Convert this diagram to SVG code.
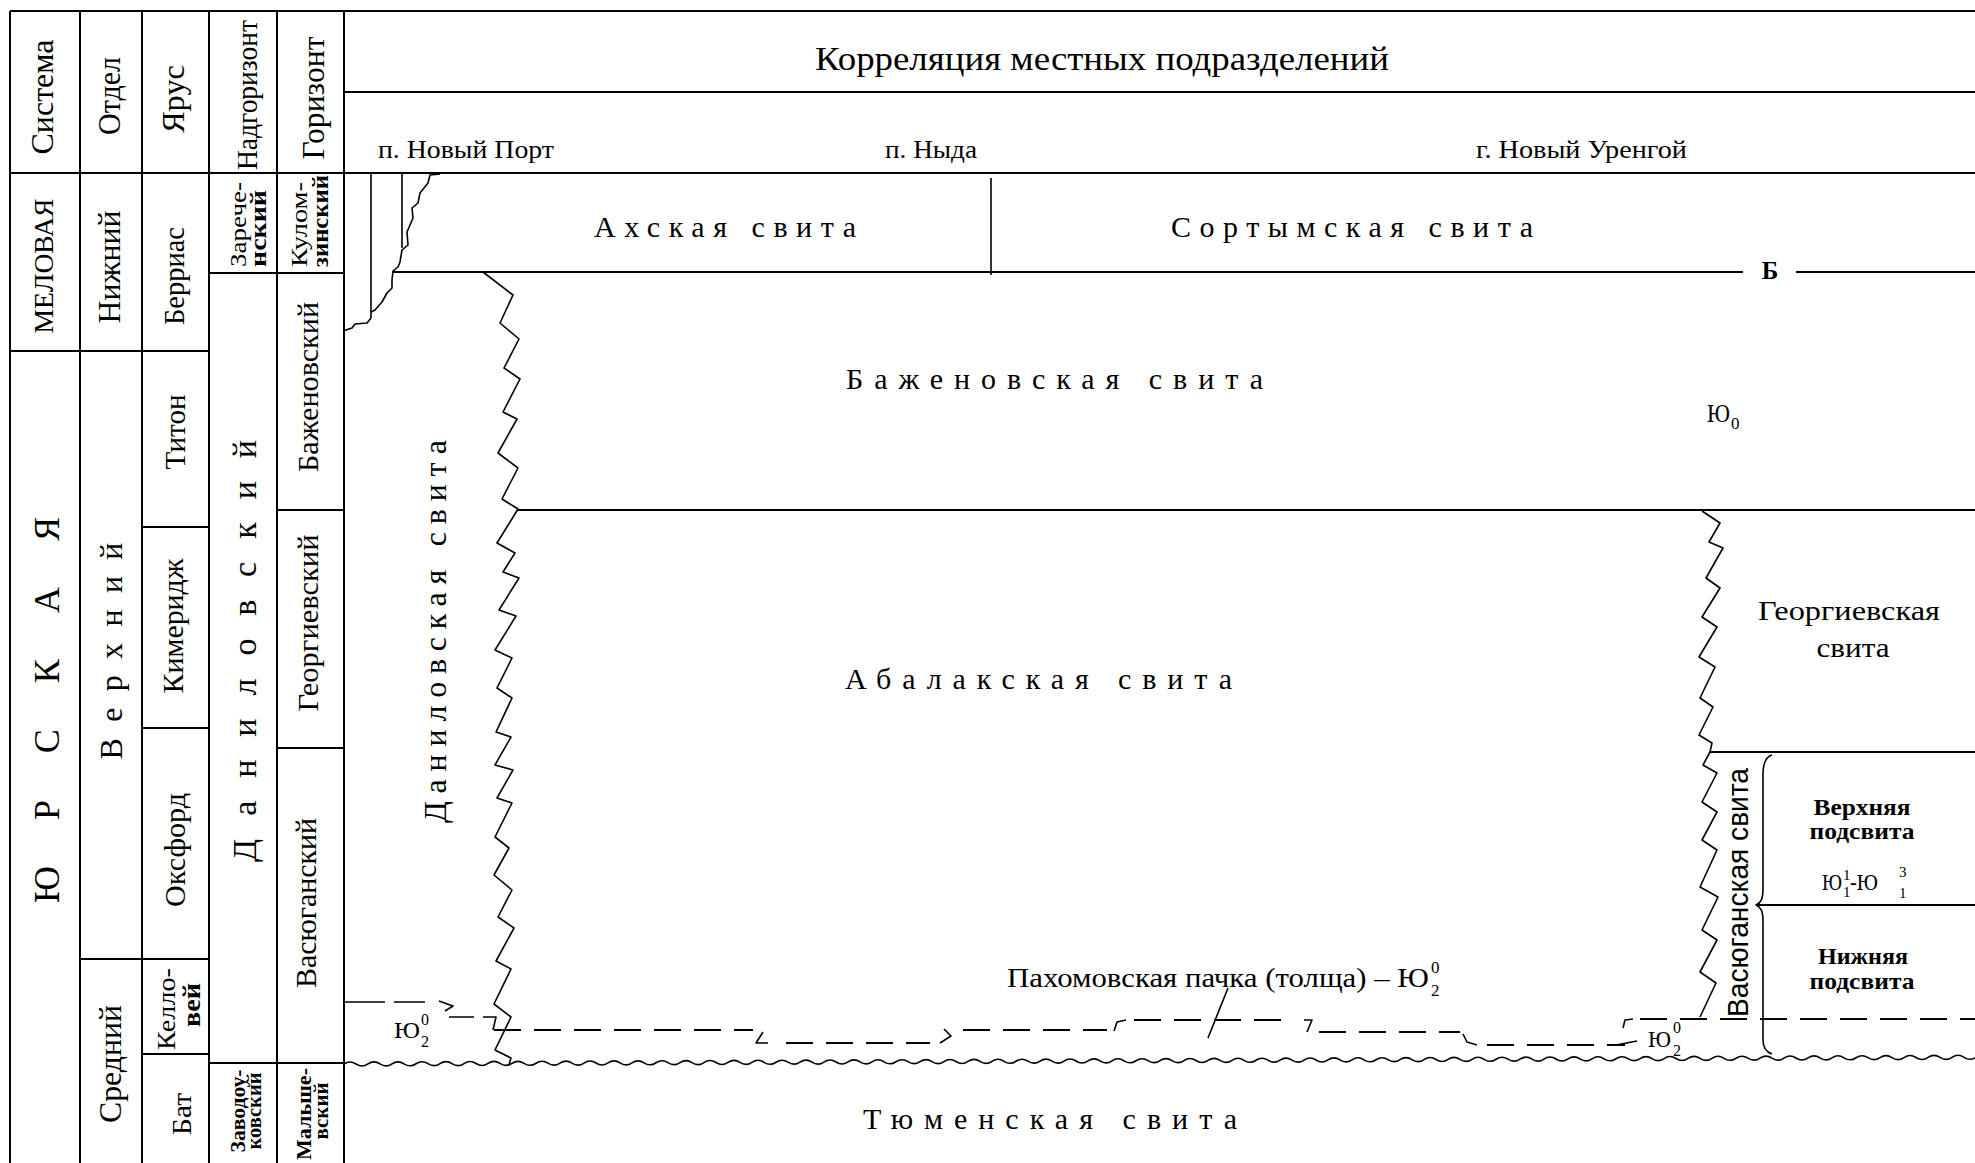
<svg xmlns="http://www.w3.org/2000/svg" width="1975" height="1163" viewBox="0 0 1975 1163">
<style>
.ln{stroke:#000;stroke-width:2;fill:none}
.th{stroke:#000;stroke-width:1.6;fill:none;stroke-linejoin:round}
.ds{stroke:#000;stroke-width:2;fill:none;stroke-dasharray:27 13}
text{font-family:"Liberation Serif","Times New Roman",serif;fill:#000}
.s{font-family:"Liberation Sans",Arial,sans-serif}
.b{font-weight:bold}
.m{text-anchor:middle}
</style>
<rect width="1975" height="1163" fill="#fff"/>
<g id="table">
<path class="ln" d="M10,11 H1975 M10,11 V1163 M80,11 V1163 M142,11 V1163 M209,11 V1163 M277,11 V1163 M344,11 V1163 M344,92 H1975 M10,173 H1975"/>
<path class="ln" d="M10,351 H209 M142,527 H209 M142,728 H209 M80,959 H209 M142,1054 H209 M209,273 H344 M277,510 H344 M277,748 H344 M209,1063 H344"/>
</g>
<g id="header-labels" font-size="32">
<text transform="translate(53,97) rotate(-90)" class="m" textLength="115" lengthAdjust="spacingAndGlyphs">Система</text>
<text transform="translate(120,96) rotate(-90)" class="m" textLength="78" lengthAdjust="spacingAndGlyphs">Отдел</text>
<text transform="translate(184,99) rotate(-90)" class="m" textLength="68" lengthAdjust="spacingAndGlyphs">Ярус</text>
<text transform="translate(257,95) rotate(-90)" class="m" font-size="29" textLength="150" lengthAdjust="spacingAndGlyphs">Надгоризонт</text>
<text transform="translate(324,98) rotate(-90)" class="m" textLength="123" lengthAdjust="spacingAndGlyphs">Горизонт</text>
</g>
<g id="system">
<text transform="translate(53,266) rotate(-90)" class="m" font-size="28" textLength="135" lengthAdjust="spacingAndGlyphs">МЕЛОВАЯ</text>
<text transform="translate(59,710) rotate(-90)" class="m" font-size="36" textLength="386" lengthAdjust="spacing">ЮРСКАЯ</text>
</g>
<g id="series">
<text transform="translate(120,267) rotate(-90)" class="m" font-size="32" textLength="113" lengthAdjust="spacingAndGlyphs">Нижний</text>
<text transform="translate(122,651) rotate(-90)" class="m" font-size="32" textLength="217" lengthAdjust="spacing">Верхний</text>
<text transform="translate(121,1064) rotate(-90)" class="m" font-size="32" textLength="118" lengthAdjust="spacingAndGlyphs">Средний</text>
</g>
<g id="stages">
<text transform="translate(184,276) rotate(-90)" class="m" font-size="29" textLength="98" lengthAdjust="spacingAndGlyphs">Берриас</text>
<text transform="translate(185,432) rotate(-90)" class="m" font-size="29" textLength="75" lengthAdjust="spacingAndGlyphs">Титон</text>
<text transform="translate(183,626) rotate(-90)" class="m" font-size="30" textLength="135" lengthAdjust="spacingAndGlyphs">Кимеридж</text>
<text transform="translate(185,850) rotate(-90)" class="m" font-size="30" textLength="114" lengthAdjust="spacingAndGlyphs">Оксфорд</text>
<text transform="translate(175,1009) rotate(-90)" class="m" font-size="26" textLength="82" lengthAdjust="spacingAndGlyphs">Келло-</text>
<text transform="translate(200,1005) rotate(-90)" class="m b" font-size="26" textLength="44" lengthAdjust="spacingAndGlyphs">вей</text>
<text transform="translate(191,1114) rotate(-90)" class="m" font-size="28" textLength="42" lengthAdjust="spacingAndGlyphs">Бат</text>
</g>
<g id="superhorizons">
<text transform="translate(246,267) rotate(-90)" font-size="24" textLength="85" lengthAdjust="spacingAndGlyphs">Зарече-</text>
<text transform="translate(266,267) rotate(-90)" class="b" font-size="24" textLength="77" lengthAdjust="spacingAndGlyphs">нский</text>
<text transform="translate(256,651) rotate(-90)" class="m" font-size="34" textLength="422" lengthAdjust="spacing">Даниловский</text>
<text transform="translate(245,1111) rotate(-90)" class="m b" font-size="21" textLength="83" lengthAdjust="spacingAndGlyphs">Заводоу-</text>
<text transform="translate(261,1111) rotate(-90)" class="m b" font-size="21" textLength="77" lengthAdjust="spacingAndGlyphs">ковский</text>
</g>
<g id="horizons">
<text transform="translate(307,267) rotate(-90)" font-size="24" textLength="85" lengthAdjust="spacingAndGlyphs">Кулом-</text>
<text transform="translate(328,267) rotate(-90)" class="b" font-size="24" textLength="92" lengthAdjust="spacingAndGlyphs">зинский</text>
<text transform="translate(318,387) rotate(-90)" class="m" font-size="30" textLength="170" lengthAdjust="spacingAndGlyphs">Баженовский</text>
<text transform="translate(318,623) rotate(-90)" class="m" font-size="30" textLength="177" lengthAdjust="spacingAndGlyphs">Георгиевский</text>
<text transform="translate(316,903) rotate(-90)" class="m" font-size="30" textLength="170" lengthAdjust="spacingAndGlyphs">Васюганский</text>
<text transform="translate(311,1114) rotate(-90)" class="m b" font-size="21" textLength="92" lengthAdjust="spacingAndGlyphs">Мальше-</text>
<text transform="translate(328,1111) rotate(-90)" class="m b" font-size="21" textLength="57" lengthAdjust="spacingAndGlyphs">вский</text>
</g>
<g id="title">
<text x="815" y="70" font-size="34" textLength="574" lengthAdjust="spacingAndGlyphs">Корреляция местных подразделений</text>
</g>
<g id="localities" font-size="25">
<text x="378" y="158" textLength="176" lengthAdjust="spacingAndGlyphs">п. Новый Порт</text>
<text x="885" y="158" textLength="92" lengthAdjust="spacingAndGlyphs">п. Ныда</text>
<text x="1476" y="158" textLength="211" lengthAdjust="spacingAndGlyphs">г. Новый Уренгой</text>
</g>
<g id="connectors">
<path class="ln" d="M393,272 H1743 M1796,272 H1975 M518,510 H1975 M1710,752 H1975 M1758,905 H1975"/>
<path class="th" d="M991,178 V275 M371,173 V312 M402,173 V248"/>
<path class="th" d="M440,174 L430,175 L428,183 L420,193 L418,203 L412,208 L413,218 L410,225 L407,232 L408,245 L402,250 L400,262 L398,267 L393,271 L392,280 L392,288 L387,293 L382,302 L375,310 L371,312 L371,318 L367,323 L355,324 L352,328 L343,331"/>
<path class="th" d="M483,272 L513,295 L500,323 L519,339 L504,368 L520,379 L503,412 L517,419 L498,453 L518,468 L502,499 L518,509 L497,543 L515,553 L503,572 L519,578 L499,610 L516,616 L495,650 L512,658 L497,688 L512,698 L496,732 L511,737 L495,765 L513,770 L497,798 L512,803 L495,837 L509,848 L494,875 L512,890 L498,917 L514,928 L496,961 L511,969 L494,1004 L511,1017 L495,1050 L511,1058 L509,1065"/>
<path class="th" d="M1702,511 L1720,523 L1709,542 L1723,548 L1706,578 L1720,588 L1702,617 L1717,627 L1699,657 L1715,667 L1700,698 L1713,707 L1699,735 L1712,743 L1710,752 L1703,765 L1717,773 L1702,802 L1717,812 L1702,840 L1717,850 L1700,887 L1718,897 L1702,930 L1717,940 L1700,972 L1716,983 L1700,1017"/>
<path class="th" d="M1772,755 C1765,757 1763,764 1763,775 L1763,888 C1763,899 1761,903 1756,905 C1761,907 1763,911 1763,922 L1763,1040 C1763,1048 1766,1052 1772,1054"/>
<path class="th" d="M344,1064 q6,-4 12,0 t12,-0.05 t12,-0.05 t12,-0.05 t12,-0.05 t12,-0.05 t12,-0.05 t12,-0.05 t12,-0.05 t12,-0.05 t12,-0.05 t12,-0.05 t12,-0.05 t12,-0.05 t12,-0.05 t12,-0.05 t12,-0.05 t12,-0.05 t12,-0.05 t12,-0.05 t12,-0.05 t12,-0.05 t12,-0.05 t12,-0.05 t12,-0.05 t12,-0.05 t12,-0.05 t12,-0.05 t12,-0.05 t12,-0.05 t12,-0.05 t12,-0.05 t12,-0.05 t12,-0.05 t12,-0.05 t12,-0.05 t12,-0.05 t12,-0.05 t12,-0.05 t12,-0.05 t12,-0.05 t12,-0.05 t12,-0.05 t12,-0.05 t12,-0.05 t12,-0.05 t12,-0.05 t12,-0.05 t12,-0.05 t12,-0.05 t12,-0.05 t12,-0.05 t12,-0.05 t12,-0.05 t12,-0.05 t12,-0.05 t12,-0.05 t12,-0.05 t12,-0.05 t12,-0.05 t12,-0.05 t12,-0.05 t12,-0.05 t12,-0.05 t12,-0.05 t12,-0.05 t12,-0.05 t12,-0.05 t12,-0.05 t12,-0.05 t12,-0.05 t12,-0.05 t12,-0.05 t12,-0.05 t12,-0.05 t12,-0.05 t12,-0.05 t12,-0.05 t12,-0.05 t12,-0.05 t12,-0.05 t12,-0.05 t12,-0.05 t12,-0.05 t12,-0.05 t12,-0.05 t12,-0.05 t12,-0.05 t12,-0.05 t12,-0.05 t12,-0.05 t12,-0.05 t12,-0.05 t12,-0.05 t12,-0.05 t12,-0.05 t12,-0.05 t12,-0.05 t12,-0.05 t12,-0.05 t12,-0.05 t12,-0.05 t12,-0.05 t12,-0.05 t12,-0.05 t12,-0.05 t12,-0.05 t12,-0.05 t12,-0.05 t12,-0.05 t12,-0.05 t12,-0.05 t12,-0.05 t12,-0.05 t12,-0.05 t12,-0.05 t12,-0.05 t12,-0.05 t12,-0.05 t12,-0.05 t12,-0.05 t12,-0.05 t12,-0.05 t12,-0.05 t12,-0.05 t12,-0.05 t12,-0.05 t12,-0.05 t12,-0.05 t12,-0.05 t12,-0.05 t12,-0.05 t12,-0.05 t12,-0.05 t12,-0.05 t12,-0.05 t12,-0.05 t12,-0.05"/>
<path class="th" d="M344,1002 H385 M394,1002 H425 M439,1001 L453,1006 L445,1011 M449,1017 H474 M483,1017 H496 L493,1030 M763,1032 L756,1043 H768 M940,1043 L951,1036 L944,1029 M1114,1031 L1117,1022 L1126,1020 M1304,1020 H1312 L1307,1032 M1463,1034 L1467,1042 L1477,1045 M1616,1045 L1637,1041 M1623,1028 L1625,1020 L1633,1019 M1208,1038 L1228,988" stroke-width="2"/>
<path class="ds" d="M494,1030 H753 M786,1043 H930 M963,1030 H1107 M1134,1020 H1290 M1319,1032 H1460 M1487,1045 H1625 M1640,1019 H1975"/>
</g>
<g id="akh"><text x="594" y="237" font-size="30" textLength="262" lengthAdjust="spacing">Ахская свита</text></g>
<g id="sortym"><text x="1171" y="237" font-size="30" textLength="362" lengthAdjust="spacing">Сортымская свита</text></g>
<g id="b-marker"><text x="1770" y="279" class="m b" font-size="25">Б</text></g>
<g id="bazhenov">
<text x="846" y="389" font-size="30" textLength="417" lengthAdjust="spacing">Баженовская свита</text>
<text x="1707" y="422" font-size="25" textLength="23" lengthAdjust="spacingAndGlyphs">Ю</text>
<text x="1731" y="429" font-size="17">0</text>
</g>
<g id="danilov"><text transform="translate(446,823) rotate(-90)" font-size="32" textLength="383" lengthAdjust="spacing">Даниловская свита</text></g>
<g id="abalak"><text x="845" y="689" font-size="30" textLength="387" lengthAdjust="spacing">Абалакская свита</text></g>
<g id="georgiev">
<text x="1849" y="620" class="m" font-size="27" textLength="182" lengthAdjust="spacingAndGlyphs">Георгиевская</text>
<text x="1853" y="657" class="m" font-size="27" textLength="73" lengthAdjust="spacingAndGlyphs">свита</text>
</g>
<g id="vasyugan">
<text transform="translate(1748,1017) rotate(-90)" class="s" font-size="30" textLength="249" lengthAdjust="spacingAndGlyphs">Васюганская свита</text>
</g>
<g id="vasyugan-upper">
<text x="1862" y="815" class="m b" font-size="23" textLength="97" lengthAdjust="spacingAndGlyphs">Верхняя</text>
<text x="1862" y="839" class="m b" font-size="23" textLength="105" lengthAdjust="spacingAndGlyphs">подсвита</text>
<text x="1822" y="890" font-size="23" textLength="20" lengthAdjust="spacingAndGlyphs">Ю</text>
<text x="1843" y="880" font-size="15">1</text>
<text x="1843" y="897" font-size="15">1</text>
<text x="1850" y="890" font-size="23" textLength="28" lengthAdjust="spacingAndGlyphs">-Ю</text>
<text x="1899" y="877" font-size="15">3</text>
<text x="1899" y="898" font-size="15">1</text>
</g>
<g id="vasyugan-lower">
<text x="1863" y="964" class="m b" font-size="23" textLength="90" lengthAdjust="spacingAndGlyphs">Нижняя</text>
<text x="1862" y="989" class="m b" font-size="23" textLength="105" lengthAdjust="spacingAndGlyphs">подсвита</text>
</g>
<g id="pakhomov">
<text x="1007" y="987" font-size="27" textLength="422" lengthAdjust="spacingAndGlyphs">Пахомовская пачка (толща) – Ю</text>
<text x="1431" y="996" font-size="17">2</text>
<text x="1431" y="973" font-size="17">0</text>
</g>
<g id="yu20-left">
<text x="394" y="1038" font-size="23" textLength="26" lengthAdjust="spacingAndGlyphs">Ю</text>
<text x="421" y="1047" font-size="16">2</text>
<text x="421" y="1025" font-size="16">0</text>
</g>
<g id="yu20-right">
<text x="1648" y="1047" font-size="23" textLength="23" lengthAdjust="spacingAndGlyphs">Ю</text>
<text x="1673" y="1056" font-size="16">2</text>
<text x="1673" y="1033" font-size="16">0</text>
</g>
<g id="tyumen"><text x="863" y="1129" font-size="30" textLength="374" lengthAdjust="spacing">Тюменская свита</text></g>
</svg>
